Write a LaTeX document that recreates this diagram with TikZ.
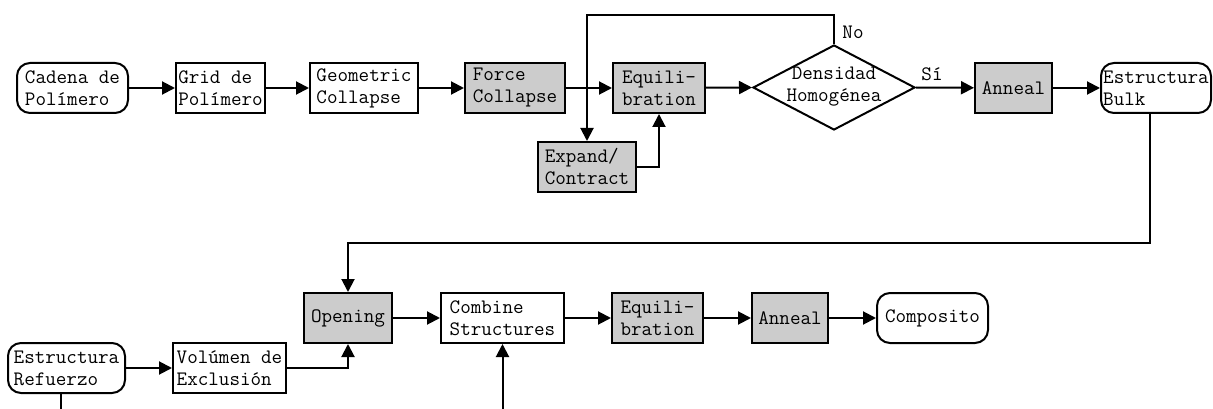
\documentclass[tikz,border=0pt]{standalone}
\usepackage{fontspec}
\usetikzlibrary{arrows.meta,shapes.geometric}
\begin{document}
\begin{tikzpicture}[x=1pt,y=-1pt,
  txt/.style={font=\ttfamily\fontsize{20.5}{22}\selectfont},
  box/.style={txt, draw, line width=2pt, minimum height=50pt, inner sep=1pt, align=left},
  gbox/.style={box, fill=gray!40},
  rbox/.style={box, rounded corners=13pt},
  arr/.style={-{Triangle[length=13pt,width=13pt]}, line width=2pt},
  ln/.style={line width=2pt}]
\useasboundingbox (0,0) rectangle (1213,409);
% row 1
\node[rbox, minimum width=111pt] (cadena) at (72.5,88) {Cadena de\\Polímero};
\node[box, minimum width=89pt] (grid) at (220.5,88) {Grid de\\Polímero};
\node[box, minimum width=108pt] (geom) at (364,88) {Geometric\\Collapse};
\node[gbox, minimum width=100pt] (force) at (515,88) {Force\\Collapse};
\node[gbox, minimum width=92pt] (equil) at (659,88) {Equili-\\bration};
\node[gbox, minimum width=98pt] (expand) at (587,167) {Expand/\\Contract};
\node[draw, diamond, line width=2pt, minimum width=162pt, minimum height=85pt, inner sep=0pt] (dens) at (834,87.5) {};
\node[txt, align=center] (denstxt) at (834,87) {Densidad\\Homogénea};
\node[gbox, minimum width=77pt] (anneal) at (1013.5,88) {Anneal};
\node[rbox, minimum width=110pt] (bulk) at (1156,88) {Estructura\\Bulk};
\node[txt, inner sep=0pt] (no) at (853,32) {No};
\node[txt, inner sep=0pt] (si) at (932,74) {Sí};
% row 2
\node[gbox, minimum width=88pt] (opening) at (348,318) {Opening};
\node[box, minimum width=123pt] (combine) at (502.5,318) {Combine\\Structures};
\node[gbox, minimum width=91pt] (equil2) at (657.5,318) {Equili-\\bration};
\node[gbox, minimum width=76pt] (anneal2) at (790,318) {Anneal};
\node[rbox, minimum width=111pt] (compo) at (932.5,318) {Composito};
% row 3
\node[rbox, minimum width=117pt] (refuerzo) at (66.5,368) {Estructura\\Refuerzo};
\node[box, minimum width=113pt] (volumen) at (229.5,368) {Volúmen de\\Exclusión};
% coordinates
\coordinate (top) at (700,15);
\coordinate (turn) at (700,243);
\coordinate (bot1) at (61,412);
\coordinate (bot2) at (502.5,412);
% connectors
\draw[arr] (cadena) -- (grid);
\draw[arr] (grid) -- (geom);
\draw[arr] (geom) -- (force);
\draw[arr] (force) -- (equil);
\draw[arr] (equil) -- (dens.west);
\draw[arr] (dens.east) -- (anneal);
\draw[arr] (anneal) -- (bulk);
\draw[arr] (dens.north) |- (top) -| (expand.north);
\draw[arr] (expand.east) -| (equil.south);
\draw[arr] ([xshift=-6pt]bulk.south) |- (turn) -| (opening.north);
\draw[arr] (opening) -- (combine);
\draw[arr] (combine) -- (equil2);
\draw[arr] (equil2) -- (anneal2);
\draw[arr] (anneal2) -- (compo);
\draw[arr] (refuerzo) -- (volumen);
\draw[arr] (volumen.east) -| (opening.south);
\draw[ln] (refuerzo.south -| bot1) -- (bot1);
\draw[arr] (bot2) -- (combine.south);
\end{tikzpicture}
\end{document}
